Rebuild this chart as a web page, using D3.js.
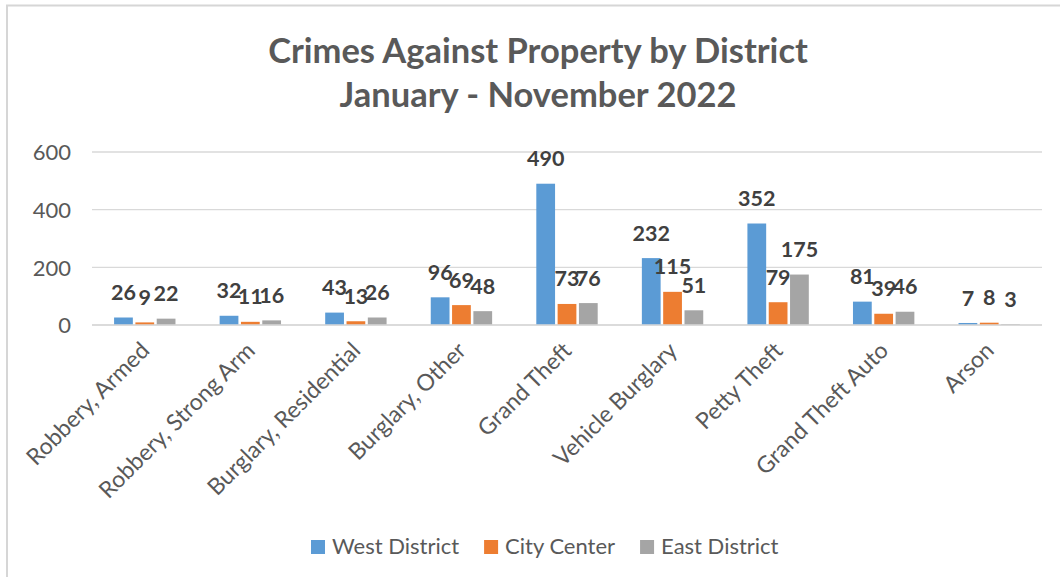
<!DOCTYPE html>
<html>
<head>
<meta charset="utf-8">
<script src="https://cdn.jsdelivr.net/npm/d3@7"></script>
<style>
  html, body { margin: 0; padding: 0; background: #fff; }
  svg { display: block; }
  text { font-family: Lato, "Open Sans", sans-serif; }
</style>
</head>
<body>
<svg id="chart" width="1060" height="577"></svg>
<script>
const categories = ["Robbery, Armed", "Robbery, Strong Arm", "Burglary, Residential", "Burglary, Other",
  "Grand Theft", "Vehicle Burglary", "Petty Theft", "Grand Theft Auto", "Arson"];
const seriesNames = ["West District", "City Center", "East District"];
const westDistrict = [26, 32, 43, 96, 490, 232, 352, 81, 7];
const cityCenter   = [9, 11, 13, 69, 73, 115, 79, 39, 8];
const eastDistrict = [22, 16, 26, 48, 76, 51, 175, 46, 3];
const yTicks = [0, 200, 400, 600];
const titleLines = ["Crimes Against Property by District", "January - November 2022"];

const colors = ["#5B9BD5", "#ED7D31", "#A5A5A5"];
const seriesValues = [westDistrict, cityCenter, eastDistrict];

const svg = d3.select("#chart");
const W = 1060, H = 577;
const plot = { left: 92, right: 1042, top: 152, bottom: 325 };

// frame lines (top and left)
svg.append("line").attr("x1", 6).attr("x2", W).attr("y1", 5.5).attr("y2", 5.5)
  .attr("stroke", "#d6d6d6").attr("stroke-width", 2);
svg.append("line").attr("x1", 7).attr("x2", 7).attr("y1", 5).attr("y2", H)
  .attr("stroke", "#d6d6d6").attr("stroke-width", 2);

// title
svg.selectAll("text.title").data(titleLines).join("text")
  .attr("class", "title")
  .attr("x", 538).attr("y", (d, i) => 63 + i * 44)
  .attr("text-anchor", "middle")
  .attr("font-size", 34.5).attr("font-weight", 700)
  .attr("fill", "#595959")
  .text(d => d);

const x0 = d3.scaleBand().domain(categories).range([plot.left, plot.right])
  .paddingInner(0.37).paddingOuter(0.185);
const x1 = d3.scaleBand().domain(seriesNames).range([0, x0.bandwidth()]).padding(0.12);
const y = d3.scaleLinear().domain([0, 600]).range([plot.bottom, plot.top]);

// gridlines
svg.append("g").selectAll("line").data(yTicks).join("line")
  .attr("x1", plot.left).attr("x2", plot.right)
  .attr("y1", d => y(d)).attr("y2", d => y(d))
  .attr("stroke", "#d9d9d9").attr("stroke-width", 1.3);

// y axis labels
const yAxis = d3.axisLeft(y).tickValues(yTicks).tickSize(0).tickPadding(0);
const yg = svg.append("g").attr("transform", `translate(71,0)`).call(yAxis);
yg.select(".domain").remove();
yg.selectAll("text").attr("font-size", 22).attr("fill", "#595959")
  .attr("font-family", "Lato, 'Open Sans', sans-serif").attr("dy", "0.35em");

// bars
const groups = svg.append("g").selectAll("g").data(categories).join("g")
  .attr("transform", d => `translate(${x0(d)},0)`);

groups.selectAll("rect").data((c, ci) => seriesNames.map((s, si) => ({ s, si, v: seriesValues[si][ci] })))
  .join("rect")
  .attr("x", d => x1(d.s)).attr("width", x1.bandwidth())
  .attr("y", d => y(d.v)).attr("height", d => y(0) - y(d.v))
  .attr("fill", d => colors[d.si]);

// data labels
groups.selectAll("text.lbl").data((c, ci) => seriesNames.map((s, si) => ({ s, si, v: seriesValues[si][ci] })))
  .join("text")
  .attr("class", "lbl")
  .attr("x", d => x1(d.s) + x1.bandwidth() / 2)
  .attr("y", d => y(d.v) - 25)
  .attr("dy", "0.35em")
  .attr("text-anchor", "middle")
  .attr("font-size", 21.5).attr("font-weight", 700).attr("fill", "#404040")
  .text(d => d.v);

// x axis line
svg.append("line").attr("x1", plot.left).attr("x2", plot.right)
  .attr("y1", y(0)).attr("y2", y(0)).attr("stroke", "#d9d9d9").attr("stroke-width", 1.3);

// category labels
const xAxis = d3.axisBottom(x0).tickSize(0).tickPadding(0);
const xg = svg.append("g").attr("transform", `translate(0,${plot.bottom})`).call(xAxis);
xg.select(".domain").remove();
xg.selectAll("text")
  .attr("font-size", 23).attr("fill", "#595959")
  .attr("font-family", "Lato, 'Open Sans', sans-serif")
  .attr("text-anchor", "end")
  .attr("dy", null).attr("y", 0)
  .attr("transform", "translate(6,27) rotate(-45)");

// legend
const legend = svg.append("g");
let lx = 311;
seriesNames.forEach((name, i) => {
  const g = legend.append("g").attr("transform", `translate(${lx},0)`);
  g.append("rect").attr("x", 0).attr("y", 540).attr("width", 14).attr("height", 14).attr("fill", colors[i]);
  const t = g.append("text").attr("x", 21).attr("y", 546).attr("dy", "0.35em")
    .attr("font-size", 22).attr("fill", "#595959").text(name);
  const w = t.node().getComputedTextLength();
  lx += 21 + w + 25;
});
</script>
</body>
</html>
